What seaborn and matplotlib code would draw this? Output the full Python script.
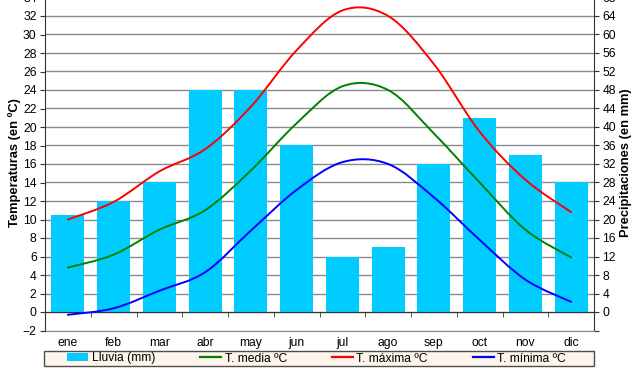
import numpy as np
import matplotlib
matplotlib.use("Agg")
import matplotlib.pyplot as plt
import seaborn as sns
from matplotlib.path import Path
from matplotlib.patches import PathPatch, Patch, Rectangle
from matplotlib.lines import Line2D

meses = ['ene', 'feb', 'mar', 'abr', 'may', 'jun', 'jul', 'ago', 'sep', 'oct', 'nov', 'dic']
lluvia = [21, 24, 28, 48, 48, 36, 12, 14, 32, 42, 34, 28]
t_media = [4.8, 6.2, 8.9, 11.0, 15.3, 20.4, 24.4, 24.0, 19.3, 14.0, 8.9, 5.9]
t_max = [10.0, 11.9, 15.2, 17.6, 22.2, 28.3, 32.6, 32.0, 26.8, 19.5, 14.3, 10.8]
t_min = [-0.3, 0.4, 2.3, 4.3, 8.8, 13.2, 16.2, 16.0, 12.4, 7.8, 3.5, 1.1]

plt.rcParams['font.family'] = ['Liberation Sans', 'DejaVu Sans']
FS = 8.7
DARK = '#333333'


def smooth_path(vals):
    # bezier through the points, like a spreadsheet "smoothed line"
    n = len(vals)
    xs = np.arange(n, dtype=float)
    ys = np.asarray(vals, dtype=float)
    verts = [(xs[0], ys[0])]
    codes = [Path.MOVETO]
    for i in range(n - 1):
        j0 = max(i - 1, 0)
        j3 = min(i + 2, n - 1)
        c1 = (xs[i] + (xs[i + 1] - xs[j0]) / 6, ys[i] + (ys[i + 1] - ys[j0]) / 6)
        c2 = (xs[i + 1] - (xs[j3] - xs[i]) / 6, ys[i + 1] - (ys[j3] - ys[i]) / 6)
        verts += [c1, c2, (xs[i + 1], ys[i + 1])]
        codes += [Path.CURVE4] * 3
    return Path(verts, codes)


fig = plt.figure(figsize=(6.4, 3.71), dpi=100)
fig.patch.set_facecolor('white')
ax = fig.add_axes([45 / 640, 40.5 / 371, 549 / 640, 333 / 371])
ax2 = ax.twinx()

# rain bars on the right axis
sns.barplot(x=meses, y=lluvia, ax=ax2, color='#00CCFF', saturation=1,
            width=0.72, edgecolor='none', zorder=3)
ax2.set_ylim(-4, 68)
rticks = np.arange(-4, 69, 4)
ax2.set_yticks(rticks, ['' if t < 0 else str(t) for t in rticks])
ax2.grid(axis='y', color='#8a8a8a', lw=1)
ax2.set_axisbelow(True)
ax2.set_ylabel('')
ax2.set_xlabel('')

# temperature lines on the left axis, drawn above the bars
ax.set_zorder(ax2.get_zorder() + 1)
ax.patch.set_visible(False)
for vals, col in [(t_media, '#008000'), (t_max, '#FF0000'), (t_min, '#0000FF')]:
    ax.add_patch(PathPatch(smooth_path(vals), fill=False, edgecolor=col, lw=1.4,
                           capstyle='round', zorder=4))
ax.set_ylim(-2, 34)
ax.set_yticks(np.arange(-2, 35, 2))
ax.set_xlim(-0.5, 11.5)

ax.set_xticks(range(12), meses)
ax.set_xticks(np.arange(0.5, 11, 1), minor=True)
ax.spines['bottom'].set_position(('data', 0))
ax.spines['bottom'].set_color(DARK)
ax.spines['left'].set_color(DARK)
ax.spines['top'].set_visible(False)
ax.spines['right'].set_visible(False)
ax.tick_params(axis='x', which='major', length=0, pad=18, labelsize=FS)
ax.tick_params(axis='x', which='minor', length=3.5, direction='out', color=DARK)
ax.tick_params(axis='y', length=3.5, direction='out', color=DARK, labelsize=FS, pad=2.5)

for s in ['left', 'top']:
    ax2.spines[s].set_visible(False)
ax2.spines['bottom'].set_color('#8a8a8a')
ax2.spines['right'].set_color(DARK)
ax2.tick_params(axis='y', length=3.5, direction='out', color=DARK, labelsize=FS, pad=2.5)

fig.text(15 / 640, 0.561, 'Temperaturas (en ºC)', rotation=90, ha='center', va='center',
         fontsize=9.3, fontweight='bold')
fig.text(626 / 640, 0.561, 'Precipitaciones (en mm)', rotation=90, ha='center', va='center',
         fontsize=9.3, fontweight='bold')

# legend box under the chart
fig.patches.append(Rectangle((44 / 640, 5 / 371), 550 / 640, 15 / 371,
                             transform=fig.transFigure, facecolor='#FDF4EA',
                             edgecolor='#4d4d4d', lw=1, zorder=1))
handles = [Patch(facecolor='#00CCFF'),
           Line2D([], [], color='#008000', lw=1.6),
           Line2D([], [], color='#FF0000', lw=1.6),
           Line2D([], [], color='#0000FF', lw=1.6)]
labels = ['Lluvia (mm)', 'T. media ºC', 'T. máxima ºC', 'T. mínima ºC']
fig.legend(handles, labels, ncol=4, loc='center left', frameon=False,
           bbox_to_anchor=(67 / 640, 12.5 / 371), bbox_transform=fig.transFigure,
           borderpad=0, borderaxespad=0, fontsize=FS, handlelength=1.75,
           handletextpad=0.3, columnspacing=3.7, handleheight=0.6)

fig.savefig('out.png', dpi=100)
